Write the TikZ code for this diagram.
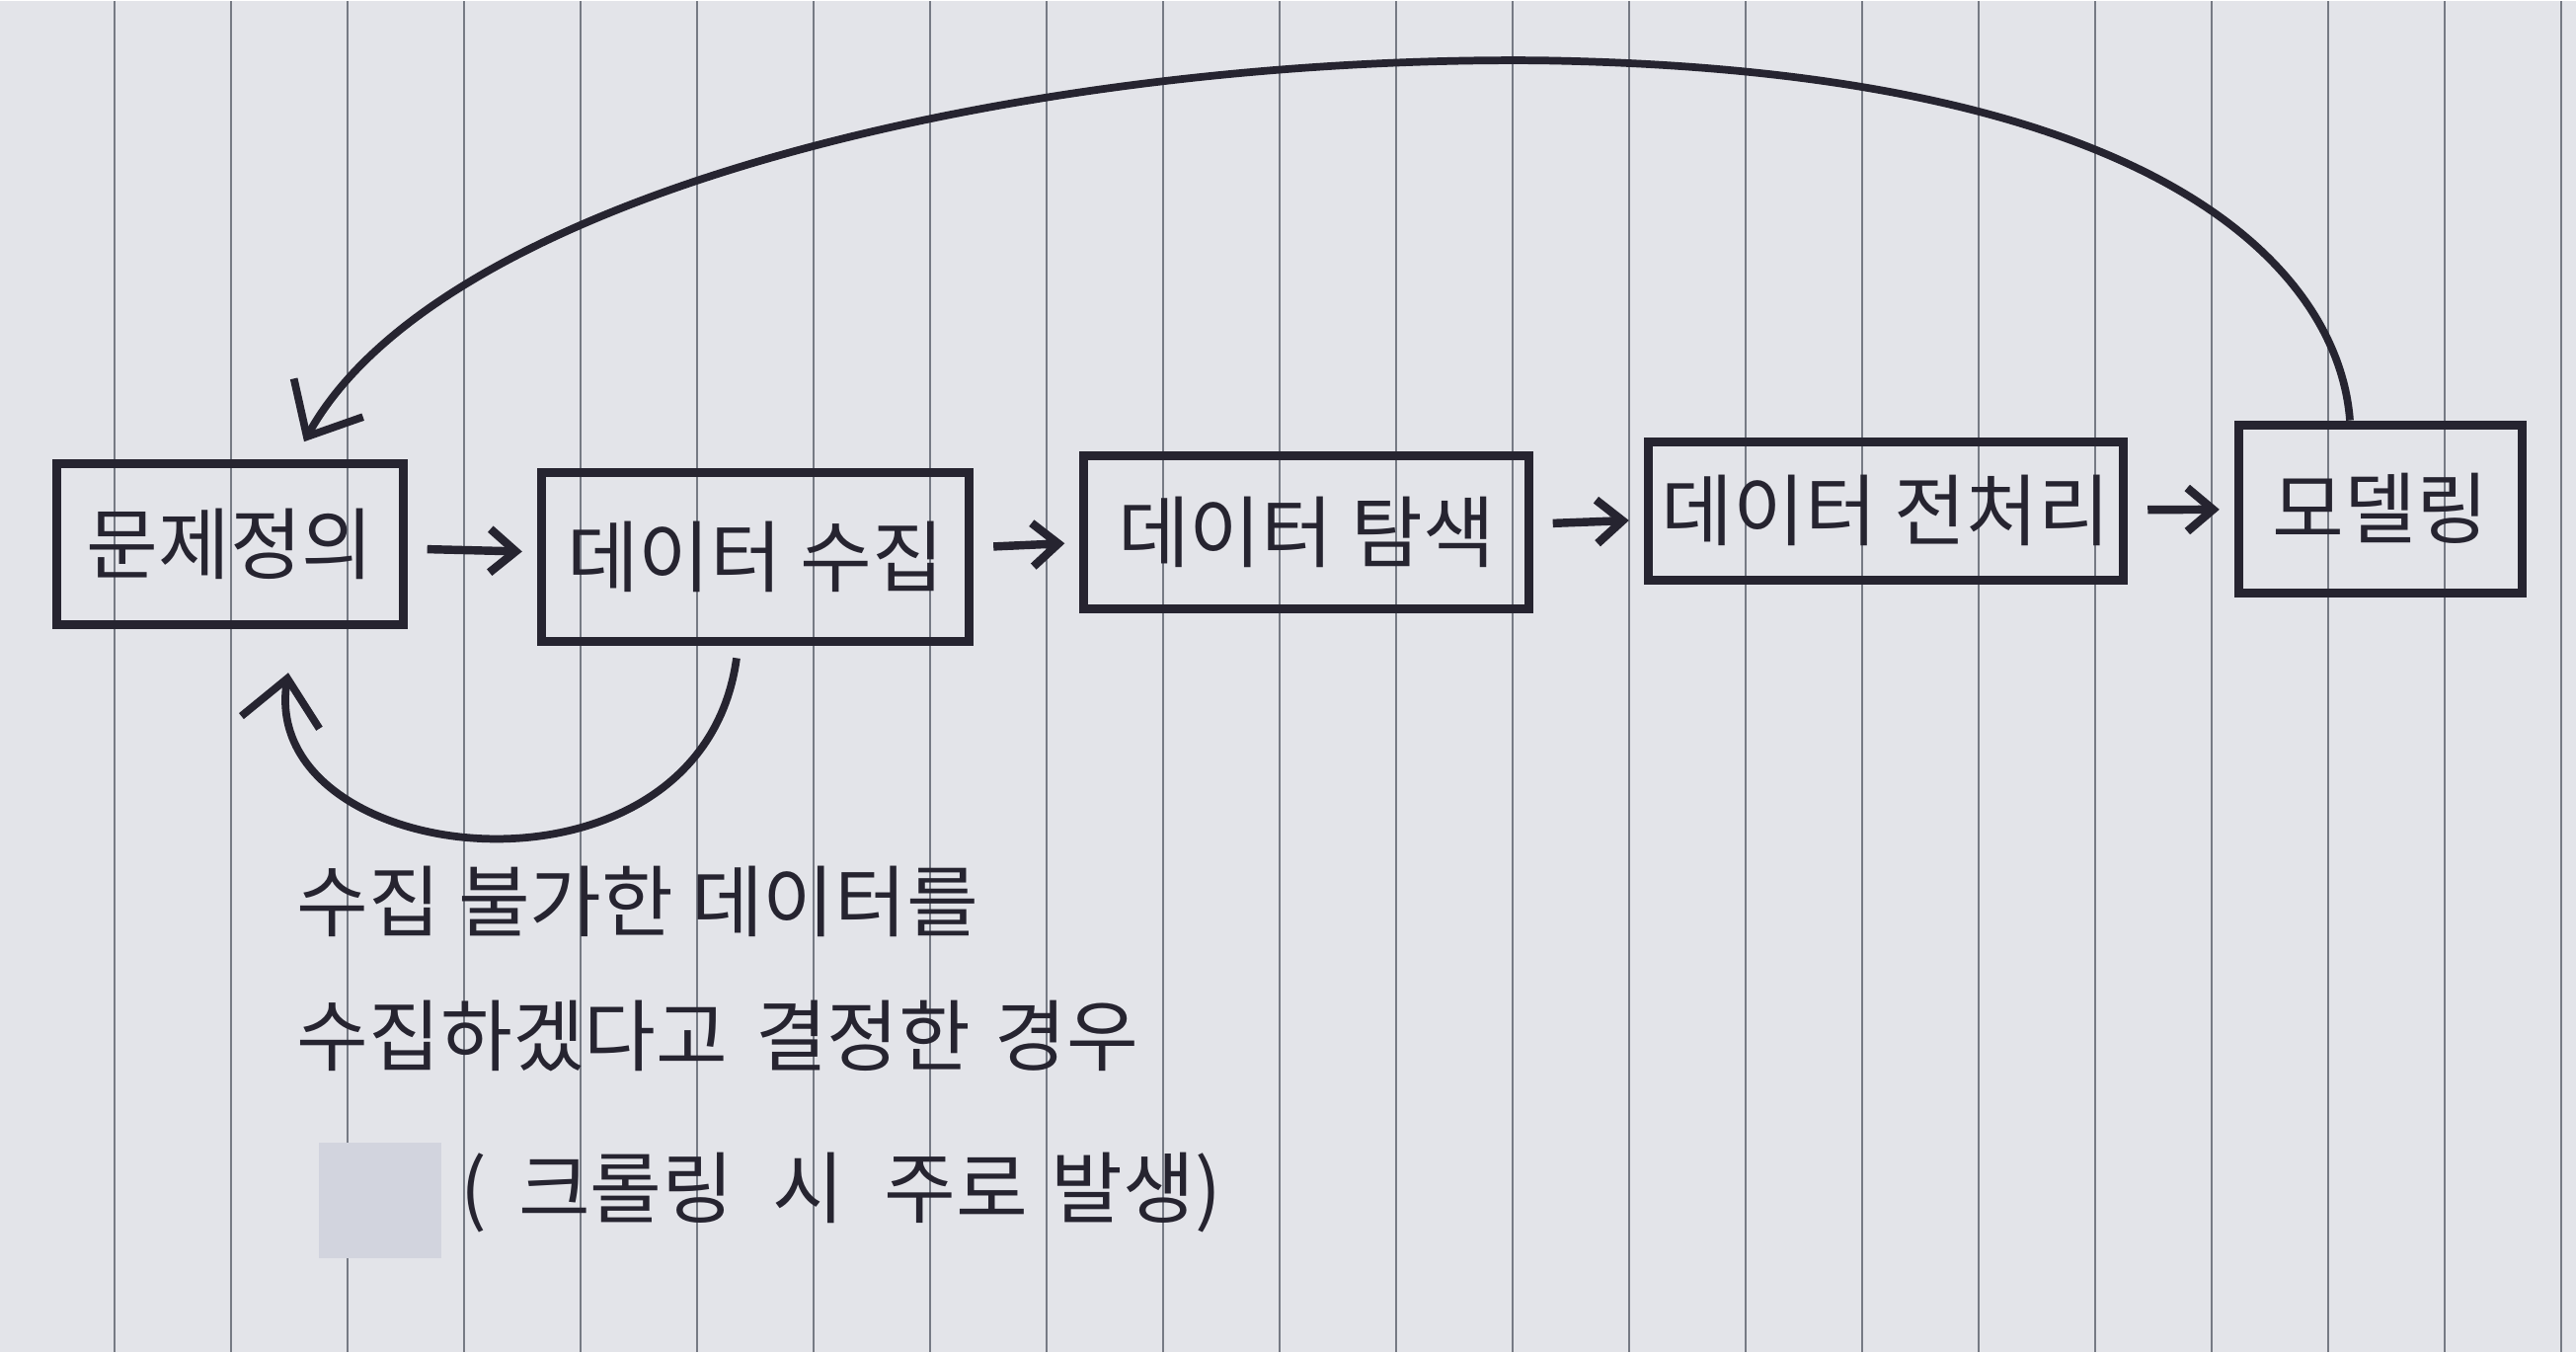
\documentclass[tikz,border=0pt]{standalone}
\usepackage{fontspec}
\newfontfamily\kr{Noto Sans CJK KR}
\usetikzlibrary{arrows.meta}
\definecolor{paper}{RGB}{227,228,233}
\definecolor{rule}{RGB}{118,122,132}
\definecolor{ink}{RGB}{38,36,48}
\definecolor{blot}{RGB}{210,212,222}

\begin{document}
\begin{tikzpicture}[x=0.01cm,y=-0.01cm,
		procbox/.style={draw=ink,line width=2.6pt,inner sep=0pt,text=ink,
			font=\kr\fontsize{22.5}{26}\selectfont},
		flow/.style={draw=ink,line width=2.4pt,shorten <=0.2cm,shorten >=0.15cm,
			-{Straight Barb[length=2.6mm,width=4.4mm]}},
		loopback/.style={draw=ink,line width=2.2pt,
			-{Straight Barb[length=4.5mm,width=8mm]}},
		note/.style={anchor=west,inner sep=0pt,text=ink,font=\kr\fontsize{22.5}{26}\selectfont},
		rule/.style={draw=rule,line width=0.7pt}]
		% paper
		\fill[paper] (0,0) rectangle (2609,1368);
		\foreach \i in {0,...,21}
			\draw[rule] ({116+118*\i},0) -- ({116+118*\i},1368);
		% steps
		\node[procbox,minimum width=3.5cm,minimum height=1.63cm] (prob) at (233,550) {문제정의};
		\node[procbox,minimum width=4.33cm,minimum height=1.71cm] (collect) at (765,563) {데이터 수집};
		\node[procbox,minimum width=4.5cm,minimum height=1.55cm] (explore) at (1323,538) {데이터 탐색};
		\node[procbox,minimum width=4.81cm,minimum height=1.4cm] (prep) at (1910,516) {데이터 전처리};
		\node[procbox,minimum width=2.87cm,minimum height=1.7cm] (model) at (2411,514) {모델링};
		\draw[flow] (prob) -- (collect);
		\draw[flow] (collect) -- (explore);
		\draw[flow] (explore) -- (prep);
		\draw[flow] (prep) -- (model);
		% back to the start
		\coordinate (ret) at (308,446);
		\coordinate (back) at (292,680);
		\draw[loopback] ([xshift=-0.31cm]model.north) .. controls (2370,290) and (2220,70) .. (1560,60)
			.. controls (1050,55) and (450,190) .. (ret);
		\draw[loopback] ([xshift=-0.19cm,yshift=-0.12cm]collect.south) .. controls (710,930) and (260,880) .. (back);
		% note
		\node[note] (n1) at (300,912) {수집 불가한 데이터를};
		\node[note] (n2) at (300,1048) {수집하겠다고\hspace{0.35em}결정한\hspace{0.3em}경우};
		\fill[blot] (323,1156) rectangle (447,1273);
		\node[note] (n3) at (466,1206) {(\hspace{0.4em}크롤링\hspace{0.5em}시\hspace{0.5em}주로\hspace{0.3em}발생)};
	\end{tikzpicture}
\end{document}
